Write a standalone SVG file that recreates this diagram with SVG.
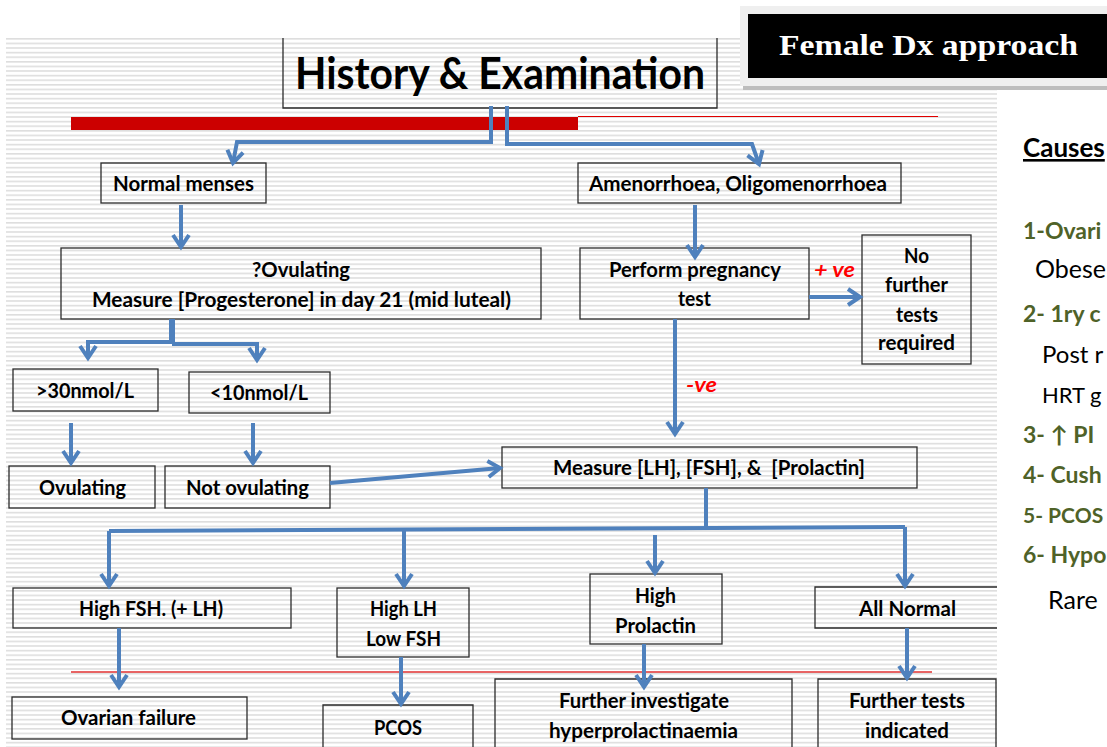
<svg xmlns="http://www.w3.org/2000/svg" width="1107" height="747" viewBox="0 0 1107 747">
<style>
.box{fill:none;stroke:#2b2b2b;stroke-width:1.3}
.t{font-family:Lato,"Open Sans","Liberation Sans",sans-serif;font-weight:700;font-size:20px;fill:#000}
.c{fill:none;stroke:#4F81BD;stroke-width:4;stroke-linejoin:miter}
.a{marker-end:url(#arr)}
.red{font-family:Lato,"Liberation Sans",sans-serif;font-weight:700;font-style:italic;font-size:20px;fill:#FF0000}
.g{font-family:Lato,"Open Sans",sans-serif;font-weight:700;font-size:23px;fill:#4F6228}
.k{font-family:Lato,"Open Sans",sans-serif;font-weight:400;font-size:25px;fill:#000}
</style>
<defs>
<pattern id="stripes" x="0" y="38" width="8" height="4.6" patternUnits="userSpaceOnUse">
<rect x="0" y="0" width="8" height="1.6" fill="#dedede"/>
</pattern>
<marker id="arr" markerUnits="userSpaceOnUse" viewBox="0 0 20 20" markerWidth="20" markerHeight="20" refX="16" refY="10" orient="auto">
<path d="M4,2 L16,10 L4,18" fill="none" stroke="#4F81BD" stroke-width="4"/>
</marker>
</defs>
<rect x="0" y="0" width="1107" height="747" fill="#ffffff"/>
<rect x="6" y="38" width="991" height="709" fill="url(#stripes)"/>

<g id="title-panel">
<rect x="740" y="6" width="367" height="80" fill="#efefef"/>
<rect x="743" y="86" width="364" height="4" fill="#bdbdbd"/>
<rect x="748" y="14" width="359" height="64" fill="#000"/>
<text x="779" y="55" textLength="299" lengthAdjust="spacingAndGlyphs" style="font-family:'Liberation Serif','Times New Roman',serif;font-weight:700;font-size:30px;fill:#fff">Female Dx approach</text>
</g>

<rect x="71" y="117" width="507" height="13" fill="#CC0000"/>
<line x1="578" y1="116.5" x2="938" y2="116.5" stroke="#E00000" stroke-width="1.2"/>
<line x1="71" y1="672" x2="932" y2="672" stroke="#E03030" stroke-width="1.5"/>

<g id="history">
<path class="box" d="M283,38 V108 H717 V38"/>
<text class="t" x="295" y="89" style="font-size:44px" textLength="410" lengthAdjust="spacingAndGlyphs">History &amp; Examination</text>
</g>

<g id="normal-menses">
<rect class="box" x="101" y="163" width="165" height="40"/>
<text class="t" x="113" y="191" textLength="141" lengthAdjust="spacingAndGlyphs">Normal menses</text>
</g>

<g id="amenorrhoea">
<rect class="box" x="578" y="163" width="323" height="40"/>
<text class="t" x="589" y="191" textLength="298" lengthAdjust="spacingAndGlyphs">Amenorrhoea, Oligomenorrhoea</text>
</g>

<g id="ovulating-q">
<rect class="box" x="61" y="248" width="480" height="71"/>
<text class="t" x="252" y="277" textLength="98" lengthAdjust="spacingAndGlyphs">?Ovulating</text>
<text class="t" x="92" y="307" textLength="419" lengthAdjust="spacingAndGlyphs">Measure [Progesterone] in day 21 (mid luteal)</text>
</g>

<g id="pregnancy">
<rect class="box" x="580" y="248" width="229" height="71"/>
<text class="t" x="609" y="277" textLength="172" lengthAdjust="spacingAndGlyphs">Perform pregnancy</text>
<text class="t" x="678" y="306" textLength="33" lengthAdjust="spacingAndGlyphs">test</text>
</g>

<g id="no-further">
<rect class="box" x="862" y="235" width="109" height="129"/>
<text class="t" x="904" y="263" textLength="25" lengthAdjust="spacingAndGlyphs">No</text>
<text class="t" x="885" y="292" textLength="63" lengthAdjust="spacingAndGlyphs">further</text>
<text class="t" x="896" y="322" textLength="42" lengthAdjust="spacingAndGlyphs">tests</text>
<text class="t" x="878" y="350" textLength="77" lengthAdjust="spacingAndGlyphs">required</text>
</g>

<g id="gt30">
<rect class="box" x="13" y="369" width="145" height="42"/>
<text class="t" x="36" y="398" textLength="98" lengthAdjust="spacingAndGlyphs">&gt;30nmol/L</text>
</g>

<g id="lt10">
<rect class="box" x="189" y="372" width="141" height="41"/>
<text class="t" x="210" y="400" textLength="98" lengthAdjust="spacingAndGlyphs">&lt;10nmol/L</text>
</g>

<g id="ovulating">
<rect class="box" x="9" y="466" width="146" height="42"/>
<text class="t" x="39" y="495" textLength="87" lengthAdjust="spacingAndGlyphs">Ovulating</text>
</g>

<g id="not-ovulating">
<rect class="box" x="165" y="466" width="165" height="42"/>
<text class="t" x="186" y="495" textLength="123" lengthAdjust="spacingAndGlyphs">Not ovulating</text>
</g>

<g id="measure-hormones">
<rect class="box" x="502" y="447" width="415" height="41"/>
<text class="t" x="553" y="475" xml:space="preserve" textLength="312" lengthAdjust="spacingAndGlyphs">Measure [LH], [FSH], &amp;  [Prolactin]</text>
</g>

<g id="high-fsh">
<rect class="box" x="13" y="588" width="278" height="40"/>
<text class="t" x="79" y="616" textLength="144" lengthAdjust="spacingAndGlyphs">High FSH. (+ LH)</text>
</g>

<g id="high-lh">
<rect class="box" x="337" y="588" width="132" height="69"/>
<text class="t" x="370" y="616" textLength="67" lengthAdjust="spacingAndGlyphs">High LH</text>
<text class="t" x="366" y="646" textLength="75" lengthAdjust="spacingAndGlyphs">Low FSH</text>
</g>

<g id="high-prolactin">
<rect class="box" x="590" y="574" width="132" height="70"/>
<text class="t" x="635" y="603" textLength="41" lengthAdjust="spacingAndGlyphs">High</text>
<text class="t" x="615" y="633" textLength="81" lengthAdjust="spacingAndGlyphs">Prolactin</text>
</g>

<g id="all-normal">
<path class="box" d="M997,587 H815 V628 H997"/>
<text class="t" x="859" y="616" textLength="97" lengthAdjust="spacingAndGlyphs">All Normal</text>
</g>

<g id="ovarian-failure">
<rect class="box" x="12" y="697" width="235" height="42"/>
<text class="t" x="61" y="725" textLength="135" lengthAdjust="spacingAndGlyphs">Ovarian failure</text>
</g>

<g id="pcos">
<path class="box" d="M323,750 V705 H473 V750"/>
<text class="t" x="374" y="735" textLength="48" lengthAdjust="spacingAndGlyphs">PCOS</text>
</g>

<g id="hyperprolactinaemia">
<path class="box" d="M495,750 V679 H792 V750"/>
<text class="t" x="559" y="708" textLength="170" lengthAdjust="spacingAndGlyphs">Further investigate</text>
<text class="t" x="549" y="738" textLength="189" lengthAdjust="spacingAndGlyphs">hyperprolactinaemia</text>
</g>

<g id="further-tests">
<path class="box" d="M818,750 V679 H996 V750"/>
<text class="t" x="849" y="708" textLength="116" lengthAdjust="spacingAndGlyphs">Further tests</text>
<text class="t" x="865" y="738" textLength="84" lengthAdjust="spacingAndGlyphs">indicated</text>
</g>

<g id="connectors">
<path class="c a" d="M491,106 V142 H237 L233,163"/>
<path class="c a" d="M507,106 V144 H752 L759,164"/>
<path class="c a" d="M181,205 V247"/>
<path class="c a" d="M695,205 V257"/>
<path class="c" d="M172,319 V343" style="stroke-width:6"/>
<path class="c a" d="M173,342 H88 V358"/>
<path class="c a" d="M172,344 H257 V360"/>
<path class="c a" d="M71,423 V463"/>
<path class="c a" d="M253,423 V463"/>
<path class="c a" d="M330,483 L500,468"/>
<path class="c a" d="M675,319 V434"/>
<path class="c a" d="M809,297 H860"/>
<path class="c" d="M706,488 V530"/>
<path class="c" d="M109,531 L905,527"/>
<path class="c a" d="M109,531 V586"/>
<path class="c a" d="M404,530 V586"/>
<path class="c a" d="M905,527 V586"/>
<path class="c a" d="M655,535 V573"/>
<path class="c a" d="M119,628 V687"/>
<path class="c a" d="M401,657 V704"/>
<path class="c a" d="M644,644 V687"/>
<path class="c a" d="M907,628 V678"/>
<text class="red" x="814" y="277" textLength="41" lengthAdjust="spacingAndGlyphs">+ ve</text>
<text class="red" x="686" y="392" textLength="31" lengthAdjust="spacingAndGlyphs">-ve</text>
</g>

<g id="causes">
<text x="1023" y="157" style="font-family:Lato,'Open Sans',sans-serif;font-weight:700;font-size:26px;fill:#000;text-decoration:underline">Causes</text>
<text class="g" x="1023" y="239">1-Ovari</text>
<text class="k" x="1035" y="278">Obese</text>
<text class="g" x="1023" y="322">2- 1ry c</text>
<text class="k" x="1042" y="363" style="font-size:24px">Post r</text>
<text class="k" x="1042" y="403" style="font-size:22px">HRT g</text>
<text class="g" x="1023" y="443">3- ↑ PI</text>
<text class="g" x="1023" y="483">4- Cush</text>
<text class="g" x="1023" y="523" style="font-size:21px">5- PCOS</text>
<text class="g" x="1023" y="563">6- Hypo</text>
<text class="k" x="1048" y="609">Rare</text>
</g>
</svg>
